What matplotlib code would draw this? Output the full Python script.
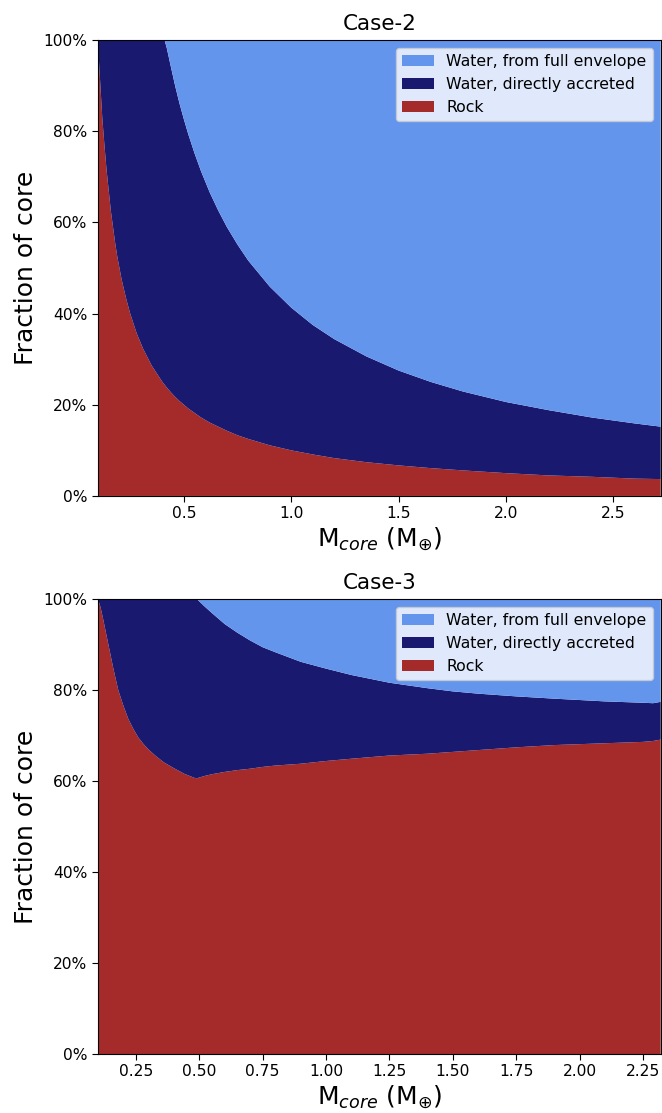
import numpy as np
import matplotlib
matplotlib.use("Agg")
import matplotlib.pyplot as plt
from matplotlib.ticker import PercentFormatter

# core composition vs core mass, Case-2
m_case2 = [0.10, 0.105, 0.11, 0.115, 0.12, 0.13, 0.14, 0.15, 0.16, 0.17, 0.18,
           0.19, 0.21, 0.23, 0.25, 0.28, 0.31, 0.35, 0.40, 0.41, 0.42, 0.44,
           0.46, 0.48, 0.50, 0.52, 0.55, 0.58, 0.62, 0.66, 0.70, 0.75, 0.80,
           0.90, 1.00, 1.10, 1.20, 1.35, 1.50, 1.65, 1.80, 2.00, 2.20, 2.40,
           2.60, 2.72]
rock_case2 = [100, 95, 91, 87, 83, 77, 71.5, 67, 62.5, 59, 55.5,
              52.5, 47.5, 43.5, 40, 35.7, 32.3, 28.6, 25, 24.4, 23.8, 22.7,
              21.7, 20.8, 20, 19.2, 18.2, 17.2, 16.1, 15.2, 14.3, 13.3, 12.5,
              11.1, 10, 9.1, 8.3, 7.4, 6.7, 6.1, 5.6, 5.0, 4.5, 4.2,
              3.8, 3.7]
direct_case2 = [0, 5, 9, 13, 17, 23, 28.5, 33, 37.5, 41, 44.5,
                47.5, 52.5, 56.5, 60, 64.3, 67.7, 71.4, 75, 75.6, 74.5, 71.3,
                68.1, 65.2, 62.6, 60.2, 56.9, 54, 50.5, 47.4, 44.7, 41.8, 39.1,
                34.8, 31.3, 28.4, 26.1, 23.2, 20.8, 18.9, 17.3, 15.6, 14.3, 13,
                12.1, 11.5]

# Case-3
m_case3 = [0.10, 0.11, 0.12, 0.13, 0.14, 0.15, 0.16, 0.18, 0.20, 0.22, 0.24,
           0.26, 0.28, 0.30, 0.33, 0.36, 0.40, 0.44, 0.48, 0.49, 0.52, 0.55,
           0.60, 0.65, 0.70, 0.75, 0.80, 0.90, 1.00, 1.10, 1.25, 1.40, 1.50,
           1.60, 1.75, 1.90, 2.00, 2.10, 2.25, 2.29, 2.32]
rock_case3 = [100, 98.2, 95.7, 93, 90.3, 87.6, 84.9, 80, 76.6, 73.6, 71.4,
              69.5, 68.1, 66.9, 65.4, 64.1, 62.8, 61.6, 60.7, 60.6, 61.1, 61.5,
              62.0, 62.4, 62.7, 63.1, 63.4, 63.8, 64.4, 64.9, 65.6, 66.0, 66.4,
              66.8, 67.4, 67.9, 68.1, 68.3, 68.6, 68.8, 69.1]
direct_case3 = [0, 1.8, 4.3, 7, 9.7, 12.4, 15.1, 20, 23.4, 26.4, 28.6,
                30.5, 31.9, 33.1, 34.6, 35.9, 37.2, 38.4, 39.3, 39.4, 37.3, 35.4,
                32.5, 30.2, 28.2, 26.3, 24.9, 22.4, 20.3, 18.4, 16.0, 14.4, 13.3,
                12.4, 11.2, 10.2, 9.7, 9.2, 8.6, 8.3, 8.3]

labels = ["Rock", "Water, directly accreted", "Water, from full envelope"]
colors = ["brown", "midnightblue", "cornflowerblue"]

cases = [
    ("Case-2", m_case2, rock_case2, direct_case2, (0.1, 2.72), [0.5, 1.0, 1.5, 2.0, 2.5]),
    ("Case-3", m_case3, rock_case3, direct_case3, (0.1, 2.32),
     [0.25, 0.5, 0.75, 1.0, 1.25, 1.5, 1.75, 2.0, 2.25]),
]

fig = plt.figure(figsize=(6.62, 11.13), dpi=100)
positions = [[0.148, 0.5544, 0.850, 0.4097], [0.148, 0.0530, 0.850, 0.4088]]

for pos, (title, m, rock, direct, xlim, xticks) in zip(positions, cases):
    ax = fig.add_axes(pos)
    rock = np.array(rock)
    direct = np.array(direct)
    envelope = 100 - rock - direct
    ax.stackplot(m, rock, direct, envelope, labels=labels, colors=colors)
    ax.set_xlim(*xlim)
    ax.set_ylim(0, 100)
    ax.set_xticks(xticks)
    if title == "Case-3":
        ax.xaxis.set_major_formatter(plt.FormatStrFormatter("%.2f"))
    ax.yaxis.set_major_formatter(PercentFormatter(100, decimals=0))
    ax.tick_params(labelsize=11.2, length=4)
    ax.set_title(title, fontsize=15.5, pad=7)
    ax.set_ylabel("Fraction of core", fontsize=18)
    ax.set_xlabel(r"M$_{core}$ (M$_{\oplus}$)", fontsize=18, labelpad=3)
    handles, labs = ax.get_legend_handles_labels()
    ax.legend(handles[::-1], labs[::-1], loc="upper right", fontsize=11.3)

fig.savefig("out.png", dpi=100)
